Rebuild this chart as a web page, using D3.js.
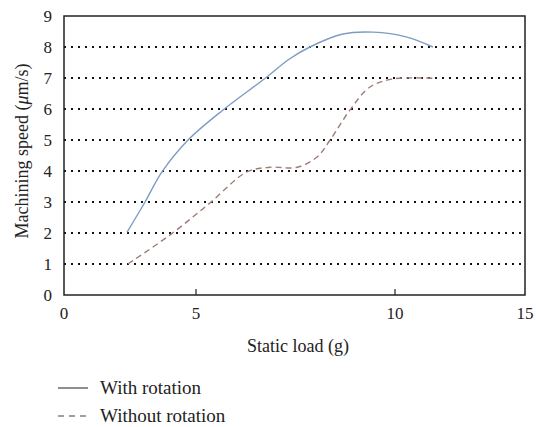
<!DOCTYPE html>
<html>
<head>
<meta charset="utf-8">
<script src="https://cdn.jsdelivr.net/npm/d3@7"></script>
<style>
  body { margin: 0; background: #fff; }
  text { font-family: "Liberation Serif", "DejaVu Serif", serif; fill: #222; }
</style>
</head>
<body>
<div id="chart"></div>
<script>
// data
var xTicks = [0, 5, 10, 15];
var yTicks = [0, 1, 2, 3, 4, 5, 6, 7, 8, 9];
var gridValues = [1, 2, 3, 4, 5, 6, 7, 8];

var withLoad = [2.39, 3.07, 3.71, 4.70, 5.68, 6.78, 7.31, 7.86, 8.69, 9.45, 10.46, 11.46];
var withSpeed = [2.03, 3.0, 3.97, 5.0, 5.97, 7.03, 7.58, 8.0, 8.42, 8.48, 8.32, 8.0];

var withoutLoad = [2.42, 4.02, 5.35, 6.28, 6.86, 7.54, 8.04, 8.37, 8.87, 9.37, 9.95, 11.46];
var withoutSpeed = [1.0, 1.94, 2.97, 3.97, 4.12, 4.12, 4.45, 5.0, 5.97, 6.71, 6.97, 6.99];

var seriesNames = ["With rotation", "Without rotation"];
var seriesColors = ["#7d9dc3", "#9e7b76"];

var width = 536, height = 427;

var svg = d3.select("#chart")
    .append("svg")
    .attr("width", width)
    .attr("height", height);

// the source figure has uneven spacing between x ticks
var x = d3.scaleLinear()
    .domain(xTicks)
    .range([64, 196, 395, 525]);

var y = d3.scaleLinear()
    .domain([0, 9])
    .range([295, 16]);

// dotted grid lines
svg.append("g")
    .selectAll("line")
    .data(gridValues)
    .enter()
    .append("line")
    .attr("x1", x(0))
    .attr("x2", x(15))
    .attr("y1", d => y(d))
    .attr("y2", d => y(d))
    .style("stroke", "#111")
    .style("stroke-width", 2)
    .style("stroke-dasharray", "2,5");

// frame
svg.append("rect")
    .attr("x", x(0))
    .attr("y", y(9))
    .attr("width", x(15) - x(0))
    .attr("height", y(0) - y(9))
    .style("fill", "none")
    .style("stroke", "#222")
    .style("stroke-width", 1.5);

// x ticks (inward)
svg.append("g")
    .selectAll("line")
    .data([5, 10])
    .enter()
    .append("line")
    .attr("x1", d => x(d))
    .attr("x2", d => x(d))
    .attr("y1", y(0))
    .attr("y2", y(0) - 6)
    .style("stroke", "#222")
    .style("stroke-width", 1.2);

svg.append("g")
    .selectAll("text")
    .data(xTicks)
    .enter()
    .append("text")
    .attr("x", d => x(d))
    .attr("y", y(0) + 24)
    .attr("text-anchor", "middle")
    .style("font-size", "17px")
    .text(d => d);

// y tick labels
svg.append("g")
    .selectAll("text")
    .data(yTicks)
    .enter()
    .append("text")
    .attr("x", 52)
    .attr("y", d => y(d) + 6)
    .attr("text-anchor", "end")
    .style("font-size", "17px")
    .text(d => d);

// axis titles
svg.append("text")
    .attr("x", 298)
    .attr("y", 352)
    .attr("text-anchor", "middle")
    .style("font-size", "18px")
    .text("Static load (g)");

svg.append("text")
    .attr("transform", "translate(28," + 151 + ") rotate(-90)")
    .attr("text-anchor", "middle")
    .style("font-size", "18px")
    .html("Machining speed (<tspan font-style='italic'>μ</tspan>m/s)");

// lines
var line = d3.line()
    .x(d => x(d[0]))
    .y(d => y(d[1]))
    .curve(d3.curveCatmullRom.alpha(0.5));

svg.append("path")
    .datum(d3.zip(withLoad, withSpeed))
    .attr("d", line)
    .style("fill", "none")
    .style("stroke", seriesColors[0])
    .style("stroke-width", 1.4);

svg.append("path")
    .datum(d3.zip(withoutLoad, withoutSpeed))
    .attr("d", line)
    .style("fill", "none")
    .style("stroke", seriesColors[1])
    .style("stroke-width", 1.4)
    .style("stroke-dasharray", "6,4");

// legend
var legend = svg.selectAll(".legend")
    .data(seriesNames)
    .enter()
    .append("g")
    .attr("class", "legend")
    .attr("transform", (d, i) => "translate(58," + (388 + i * 28) + ")");

legend.append("line")
    .attr("x1", 0)
    .attr("x2", 30)
    .style("stroke", "#444")
    .style("stroke-width", 1.2)
    .style("stroke-dasharray", (d, i) => i == 0 ? null : "6,5");

legend.append("text")
    .attr("x", 42)
    .attr("y", 6)
    .style("font-size", "19px")
    .text(d => d);
</script>
</body>
</html>
